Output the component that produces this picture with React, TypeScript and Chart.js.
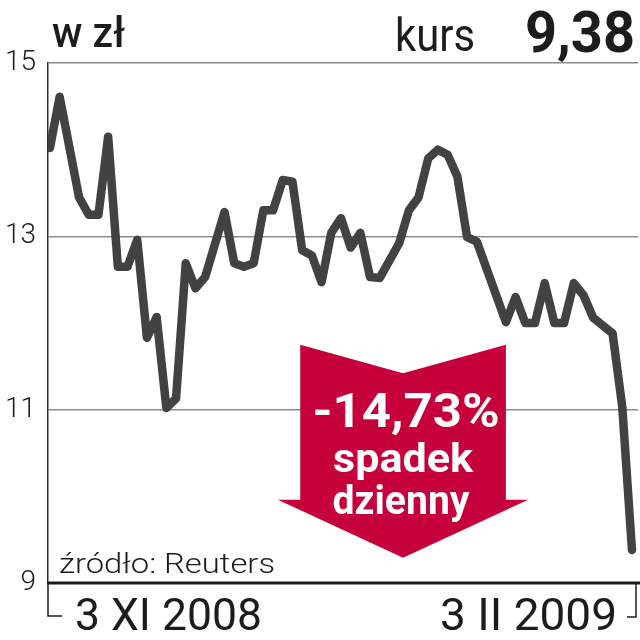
import React, { useEffect, useRef } from "react";
import { Chart, registerables } from "chart.js";

Chart.register(...registerables);

// trading-day index since 3 XI 2008
const DAYS = [0, 1, 3, 4, 5, 6, 7, 8, 9, 10, 11, 12, 13, 14, 15, 16, 18, 19, 20, 21, 22, 23, 24, 25, 26, 27, 28, 29, 30, 31, 32, 33, 34, 36, 37, 38, 39, 40, 41, 42, 43, 44, 47, 48, 49, 50, 51, 52, 53, 54, 55, 56, 58, 59, 60];
// closing price, zł
const PRICES = [14.02, 14.61, 13.45, 13.25, 13.25, 14.15, 12.65, 12.65, 12.96, 11.83, 12.07, 11.02, 11.13, 12.69, 12.4, 12.53, 13.28, 12.69, 12.65, 12.69, 13.3, 13.3, 13.65, 13.63, 12.84, 12.78, 12.47, 13.04, 13.21, 12.87, 13.04, 12.53, 12.52, 12.92, 13.3, 13.45, 13.9, 14.0, 13.94, 13.69, 12.99, 12.94, 12.01, 12.3, 12.0, 12.0, 12.46, 12.0, 12.0, 12.46, 12.32, 12.06, 11.88, 11.03, 9.38];
const Y_TICKS = [9, 11, 13, 15];
const X_LABELS = ["3 XI 2008", "3 II 2009"];
const UNIT_LABEL = "w zł";
const RATE_LABEL = "kurs";
const RATE_VALUE = "9,38";
const SOURCE = "źródło: Reuters";
const CALLOUT_LINES = ["-14,73%", "spadek", "dzienny"];

// callout arrow placement in data units
const ARROW = { x: 36.4, half: 10.6, flap: 12.9, top: 11.75, notch: 11.42, shoulder: 9.96, tip: 9.29 };

const FONT = "Roboto, 'Liberation Sans', Arial, sans-serif";
const RED = "#c5003b";
const LINE = "#424242";
const INK = "#1c1c1c";

function fitText(ctx: CanvasRenderingContext2D, text: string, x: number, y: number, font: string, width: number, align: CanvasTextAlign, color: string) {
  ctx.save();
  ctx.font = font;
  const w = ctx.measureText(text).width || 1;
  ctx.translate(x, y);
  ctx.scale(width / w, 1);
  ctx.textAlign = align;
  ctx.textBaseline = "alphabetic";
  ctx.fillStyle = color;
  ctx.fillText(text, 0, 0);
  ctx.restore();
}

const decor = {
  id: "decor",
  beforeDatasetsDraw(chart: any) {
    const { ctx, chartArea, scales } = chart;
    const x = scales.x, y = scales.y;
    // red arrow
    const cx = x.getPixelForValue(ARROW.x);
    const dx = x.getPixelForValue(ARROW.x + ARROW.half) - cx;
    const fx = x.getPixelForValue(ARROW.x + ARROW.flap) - cx;
    ctx.save();
    ctx.fillStyle = RED;
    ctx.beginPath();
    ctx.moveTo(cx - dx, y.getPixelForValue(ARROW.top));
    ctx.lineTo(cx, y.getPixelForValue(ARROW.notch));
    ctx.lineTo(cx + dx, y.getPixelForValue(ARROW.top));
    ctx.lineTo(cx + dx, y.getPixelForValue(ARROW.shoulder));
    ctx.lineTo(cx + fx, y.getPixelForValue(ARROW.shoulder));
    ctx.lineTo(cx, y.getPixelForValue(ARROW.tip));
    ctx.lineTo(cx - fx, y.getPixelForValue(ARROW.shoulder));
    ctx.lineTo(cx - dx, y.getPixelForValue(ARROW.shoulder));
    ctx.closePath();
    ctx.fill();
    ctx.restore();
    fitText(ctx, CALLOUT_LINES[0], cx + 3, 427, `700 48px ${FONT}`, 187, "center", "#ffffff");
    fitText(ctx, CALLOUT_LINES[1], cx, 472, `700 40px ${FONT}`, 140, "center", "#ffffff");
    fitText(ctx, CALLOUT_LINES[2], cx - 2, 514, `700 40px ${FONT}`, 137, "center", "#ffffff");

    // bottom axis and brackets
    const b = chartArea.bottom;
    const l = chartArea.left;
    const r = chartArea.right;
    ctx.save();
    ctx.strokeStyle = INK;
    ctx.lineWidth = 3;
    ctx.beginPath();
    ctx.moveTo(l - 1, b);
    ctx.lineTo(640, b);
    ctx.stroke();
    ctx.lineWidth = 1.5;
    ctx.beginPath();
    ctx.moveTo(l, b);
    ctx.lineTo(l, b + 33);
    ctx.lineTo(l + 14, b + 33);
    ctx.moveTo(r - 2, b);
    ctx.lineTo(r - 2, b + 34);
    ctx.lineTo(r - 11, b + 34);
    ctx.stroke();
    ctx.restore();

    // x labels at first and last day
    fitText(ctx, X_LABELS[0], x.getPixelForValue(DAYS[0]) + 25, 630, `400 44px ${FONT}`, 187, "left", INK);
    fitText(ctx, X_LABELS[1], x.getPixelForValue(DAYS[DAYS.length - 1]) - 15, 630, `400 44px ${FONT}`, 177, "right", INK);

    // titles
    fitText(ctx, UNIT_LABEL, 52, 47, `500 42px ${FONT}`, 73, "left", INK);
    fitText(ctx, RATE_LABEL, 395, 51, `400 46px ${FONT}`, 80, "left", INK);
    fitText(ctx, RATE_VALUE, 525, 52, `700 57px ${FONT}`, 110, "left", INK);
    fitText(ctx, SOURCE, 59, 573, `300 27px ${FONT}`, 216, "left", INK);
  },
};

export default function App() {
  const ref = useRef<HTMLCanvasElement>(null);
  useEffect(() => {
    document.body.style.margin = "0";
    const chart = new Chart(ref.current!, {
      type: "line",
      data: {
        datasets: [
          {
            data: DAYS.map((d, i) => ({ x: d, y: PRICES[i] })),
            borderColor: LINE,
            borderWidth: 8.5,
            pointRadius: 0,
            tension: 0,
            borderJoinStyle: "round",
            borderCapStyle: "round",
          },
        ],
      },
      options: {
        animation: false,
        responsive: false,
        devicePixelRatio: 1,
        layout: { padding: { top: 63, bottom: 57, left: 0, right: 2 } },
        plugins: { legend: { display: false }, tooltip: { enabled: false } },
        scales: {
          x: { type: "linear", min: -0.2, max: 60.62, display: false },
          y: {
            min: 9,
            max: 15,
            afterBuildTicks: (s: any) => { s.ticks = Y_TICKS.map((v) => ({ value: v })); },
            afterFit: (s: any) => { s.width = 48; },
            ticks: { padding: 12, color: INK, font: { family: FONT, size: 28, weight: "300" } },
            grid: { color: "#8c8c8c", lineWidth: 1.5, drawTicks: false },
            border: { display: true, color: "#333", width: 1.5 },
          },
        },
      },
      plugins: [decor],
    });
    return () => chart.destroy();
  }, []);
  return (
    <div style={{ width: 640, height: 640 }}>
      <canvas ref={ref} width={640} height={640} style={{ display: "block" }} />
    </div>
  );
}
